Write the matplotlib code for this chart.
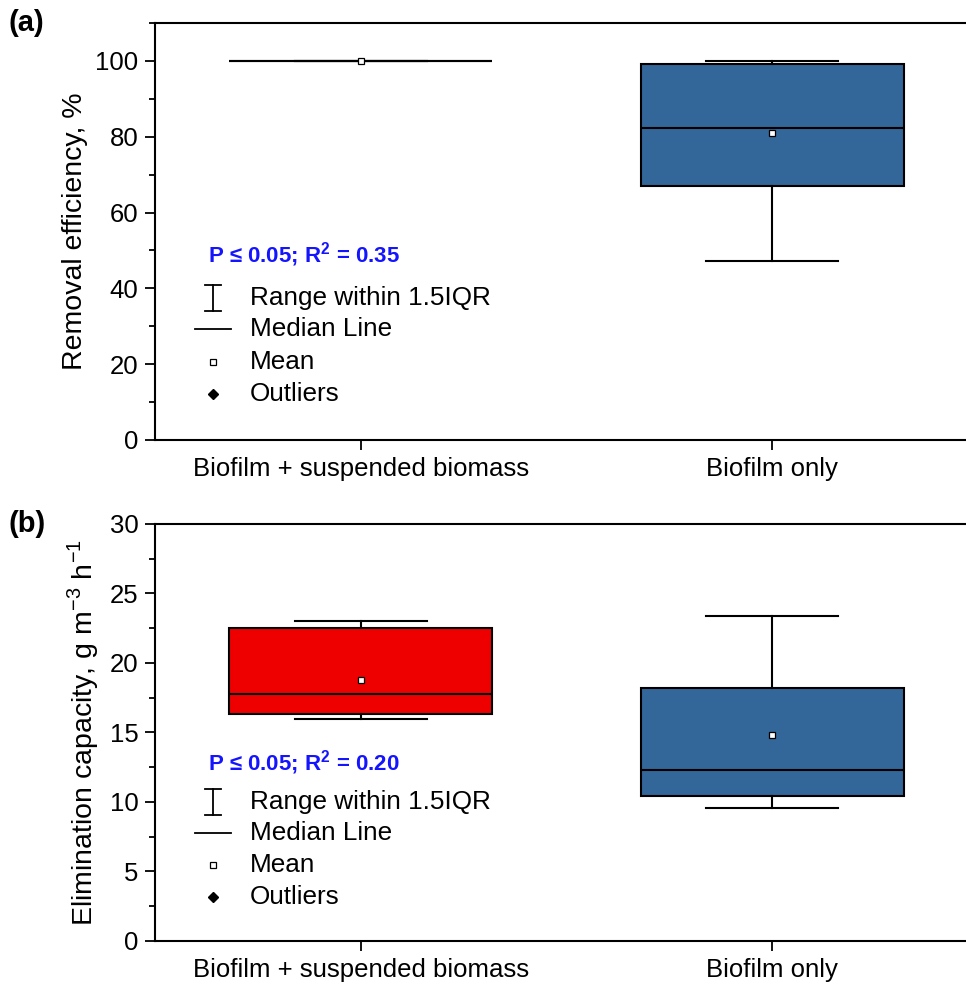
import matplotlib
matplotlib.use("Agg")
import matplotlib.pyplot as plt
from matplotlib.lines import Line2D
from matplotlib.ticker import MultipleLocator

plt.rcParams['font.family'] = ['Liberation Sans', 'DejaVu Sans']
plt.rcParams['mathtext.fontset'] = 'custom'
plt.rcParams['mathtext.rm'] = 'Liberation Sans'
plt.rcParams['mathtext.bf'] = 'Liberation Sans:bold'

categories = ['Biofilm + suspended biomass', 'Biofilm only']
box_colors = ['#ee0000', '#336699']

# panel (a): removal efficiency, %
re_whislo = [100.0, 47.3]
re_q1 = [100.0, 67.1]
re_med = [100.0, 82.4]
re_q3 = [100.0, 99.2]
re_whishi = [100.0, 100.0]
re_mean = [100.0, 80.9]

# panel (b): elimination capacity, g m-3 h-1
ec_whislo = [16.0, 9.6]
ec_q1 = [16.3, 10.45]
ec_med = [17.8, 12.3]
ec_q3 = [22.5, 18.2]
ec_whishi = [23.0, 23.4]
ec_mean = [18.8, 14.8]


def make_stats(lo, q1, med, q3, hi, mean):
    stats = []
    for i in range(len(categories)):
        stats.append(dict(label=categories[i], whislo=lo[i], q1=q1[i], med=med[i],
                          q3=q3[i], whishi=hi[i], mean=mean[i], fliers=[]))
    return stats


def draw_panel(ax, stats, ylim, major, minor, ylabel, note, rows_y, note_y, tag, lpad):
    lw = 1.5
    bp = ax.bxp(stats, positions=[1, 2], widths=0.64, capwidths=0.32,
                showmeans=True, patch_artist=True, showfliers=False,
                boxprops=dict(linewidth=lw, edgecolor='black'),
                medianprops=dict(color='black', linewidth=lw),
                whiskerprops=dict(color='black', linewidth=lw),
                capprops=dict(color='black', linewidth=lw),
                meanprops=dict(marker='s', markerfacecolor='white', markeredgecolor='black',
                               markersize=5, markeredgewidth=0.9))
    for patch, c in zip(bp['boxes'], box_colors):
        patch.set_facecolor(c)

    ax.set_xlim(0.5, 2.5)
    ax.set_ylim(*ylim)
    ax.yaxis.set_major_locator(MultipleLocator(major))
    ax.yaxis.set_minor_locator(MultipleLocator(minor))
    ax.set_xticks([1, 2])
    ax.set_xticklabels(categories)
    ax.tick_params(axis='both', which='major', direction='out', length=7, width=1.3,
                   labelsize=18.5, pad=5)
    ax.tick_params(axis='y', which='minor', direction='out', length=4, width=1.3)
    ax.tick_params(axis='x', which='minor', bottom=False)
    for s in ax.spines.values():
        s.set_linewidth(1.5)
    ax.set_ylabel(ylabel, fontsize=20.5, labelpad=lpad)

    # custom key drawn in axes fraction
    tr = ax.transAxes
    ax.text(0.064, note_y, note, transform=tr, color='#1414ff', fontsize=16,
            fontweight='bold', va='center', ha='left')
    xc = 0.0705
    y0 = rows_y[0]
    ax.add_line(Line2D([xc, xc], [y0 - 0.03, y0 + 0.032], transform=tr, color='black', lw=1.3))
    ax.add_line(Line2D([xc - 0.01, xc + 0.01], [y0 + 0.032, y0 + 0.032], transform=tr, color='black', lw=1.3))
    ax.add_line(Line2D([xc - 0.01, xc + 0.01], [y0 - 0.03, y0 - 0.03], transform=tr, color='black', lw=1.3))
    ax.add_line(Line2D([0.0486, 0.0923], [rows_y[1], rows_y[1]], transform=tr, color='black', lw=1.3))
    ax.plot([xc], [rows_y[2]], transform=tr, marker='s', ms=5, mfc='white', mec='black', mew=0.9)
    ax.plot([xc], [rows_y[3]], transform=tr, marker='D', ms=5, mfc='black', mec='black')
    labels = ['Range within 1.5IQR', 'Median Line', 'Mean', 'Outliers']
    for lab, yy in zip(labels, rows_y):
        ax.text(0.1154, yy, lab, transform=tr, fontsize=18.8, va='center', ha='left')

    ax.text(-0.178, 1.0, tag, transform=tr, fontsize=21, fontweight='bold',
            va='center', ha='left')


fig = plt.figure(figsize=(9.66, 9.85), dpi=100)
ax1 = fig.add_axes([0.1605, 0.5533, 0.852, 0.4234])
ax2 = fig.add_axes([0.1605, 0.0447, 0.852, 0.4234])

draw_panel(ax1, make_stats(re_whislo, re_q1, re_med, re_q3, re_whishi, re_mean),
           (0, 110), 20, 10, 'Removal efficiency, %',
           r'P ≤ 0.05; R$^\mathbf{2}$ = 0.35', [0.340, 0.266, 0.187, 0.110], 0.444, '(a)', 5)
draw_panel(ax2, make_stats(ec_whislo, ec_q1, ec_med, ec_q3, ec_whishi, ec_mean),
           (0, 30), 5, 2.5, r'Elimination capacity, g m$^{\mathrm{-3}}$ h$^{\mathrm{-1}}$',
           r'P ≤ 0.05; R$^\mathbf{2}$ = 0.20', [0.333, 0.259, 0.182, 0.105], 0.427, '(b)', 6)

fig.savefig('out.png', dpi=100)
